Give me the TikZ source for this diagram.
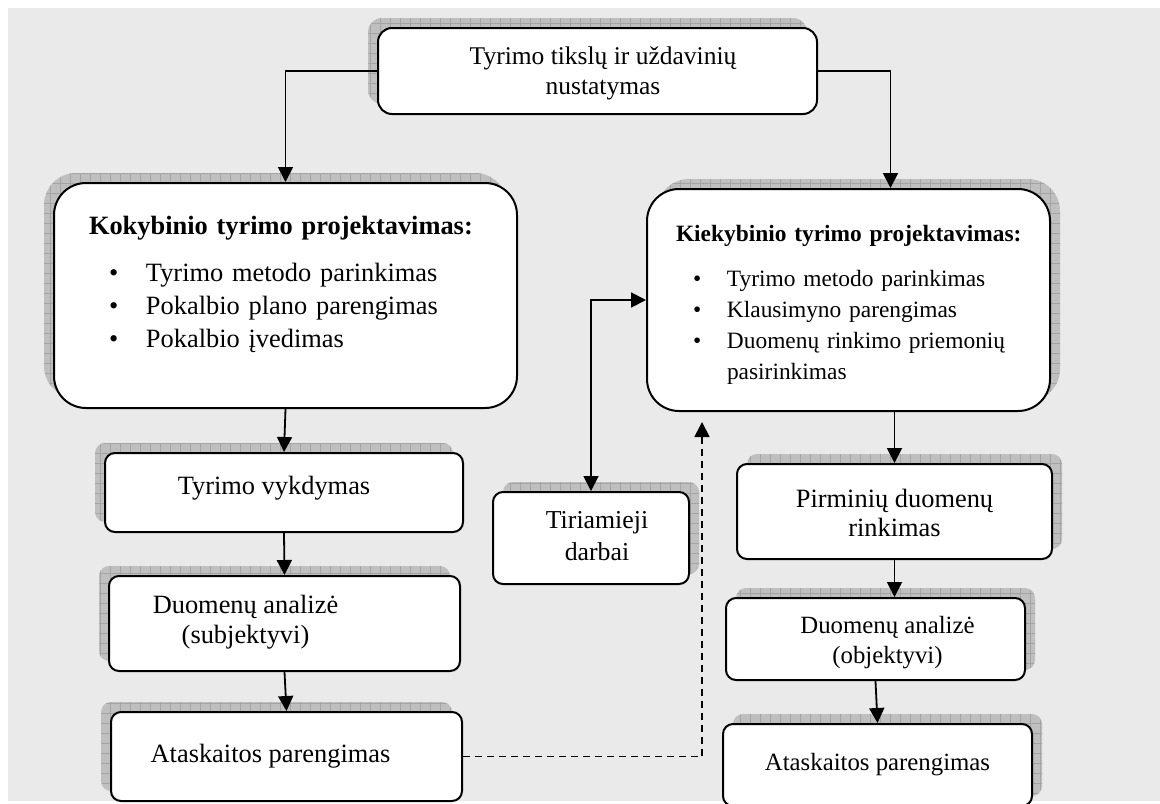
\documentclass[tikz,border=0pt]{standalone}
\usepackage{fontspec}
\setmainfont{Liberation Serif}
\usetikzlibrary{arrows.meta,shadows,patterns.meta}
\definecolor{paper}{HTML}{EAEAEA}
\definecolor{shade}{HTML}{BFBFBF}
\definecolor{shadeline}{HTML}{A4A4A4}
% shift a (multi-line) label inside its box: #1 right, #2 up
\newcommand\nudge[3]{\hspace*{#1}\raisebox{#2}[\height][\depth]{\begin{tabular}{@{}c@{}}#3\end{tabular}}\hspace*{-#1}}
\tikzset{
  shadowfill/.style={opacity=1, fill=shade,
    postaction={pattern={Hatch[distance=5pt,line width=0.35pt]}, pattern color=shadeline}},
  lshadow/.style={drop shadow={shadow xshift=-5pt, shadow yshift=5pt, shadowfill}},
  rshadow/.style={drop shadow={shadow xshift=5pt, shadow yshift=5pt, shadowfill}},
  box/.style={draw, line width=1pt, fill=white, rounded corners=5pt, align=center,
    font=\fontsize{13.2pt}{16pt}\selectfont, inner sep=0pt},
  bigbox/.style={box, rounded corners=16pt, align=left, anchor=north west, inner ysep=0pt},
  arr/.style={-{Triangle[length=7.5pt,width=7.5pt]}, line width=0.9pt},
  dbl/.style={{Triangle[length=7.5pt,width=7.5pt]}-{Triangle[length=7.5pt,width=7.5pt]}, line width=0.9pt},
}

\begin{document}
\begin{tikzpicture}[x=0.5pt, y=-0.5pt]
  \useasboundingbox (0,0) rectangle (1160,803);
  \fill[paper] (8,8) rectangle (1160,801);

  % goal
  \node[box, lshadow, rounded corners=7pt, minimum width=219.5pt, minimum height=43pt,
    font=\fontsize{12.75pt}{15pt}\selectfont] (goal) at (597.5,71)
    {\nudge{2.75pt}{-1pt}{Tyrimo tikslų ir uždavinių\\nustatymas}};

  % the two designs
  \node[bigbox, lshadow, inner xsep=17.5pt, text width=196.5pt, text height=25.5pt, text depth=87pt,
    font=\fontsize{13.2pt}{16.5pt}\selectfont] (qual) at (53,182) {%
    \mbox{\textbf{Kokybinio tyrimo projektavimas:}}\\[7pt]
    \begin{tabular}[t]{@{\hspace{10pt}}p{18.5pt}@{}l@{}}
      \textbullet & Tyrimo metodo parinkimas\\
      \textbullet & Pokalbio plano parengimas\\
      \textbullet & Pokalbio įvedimas
    \end{tabular}};
  \node[bigbox, rshadow, inner xsep=14.5pt, text width=172.5pt, text height=26pt, text depth=85pt,
    font=\fontsize{11.7pt}{15.5pt}\selectfont] (quant) at (646,188) {%
    \mbox{\textbf{Kiekybinio tyrimo projektavimas:}}\\[7pt]
    \begin{tabular}[t]{@{\hspace{8.5pt}}p{17pt}@{}l@{}}
      \textbullet & Tyrimo metodo parinkimas\\
      \textbullet & Klausimyno parengimas\\
      \textbullet & Duomenų rinkimo priemonių\\
                  & pasirinkimas
    \end{tabular}};

  % left column
  \node[box, lshadow, minimum width=179pt, minimum height=39.5pt] (run) at (284,492.5)
    {\nudge{-5pt}{2pt}{Tyrimo vykdymas}};
  \node[box, lshadow, minimum width=175.5pt, minimum height=47.5pt,
    font=\fontsize{13.2pt}{15pt}\selectfont] (qualan) at (284.5,623.5)
    {\nudge{-19.5pt}{0.75pt}{Duomenų analizė\\(subjektyvi)}};
  \node[box, lshadow, minimum width=175.5pt, minimum height=44.5pt] (qualrep) at (286.5,756.5)
    {\nudge{-8pt}{0pt}{Ataskaitos parengimas}};

  % middle
  \node[box, rshadow, minimum width=98pt, minimum height=46pt,
    font=\fontsize{12.9pt}{16pt}\selectfont] (works) at (591,538)
    {\nudge{3pt}{0pt}{Tiriamieji\\darbai}};

  % right column
  \node[box, rshadow, minimum width=157.5pt, minimum height=47.5pt,
    font=\fontsize{13.2pt}{14.5pt}\selectfont] (collect) at (894.5,511.5)
    {\nudge{0pt}{-2.5pt}{Pirminių duomenų\\rinkimas}};
  \node[box, rshadow, minimum width=149.5pt, minimum height=41pt,
    font=\fontsize{12.4pt}{15pt}\selectfont] (quantan) at (875.5,639)
    {\nudge{6pt}{-1.5pt}{Duomenų analizė\\(objektyvi)}};
  \node[box, rshadow, minimum width=154.5pt, minimum height=41pt,
    font=\fontsize{12.4pt}{15pt}\selectfont] (quantrep) at (877.5,765)
    {Ataskaitos parengimas};

  % connectors
  \draw[arr] (goal.west) -| (qual.north);
  \draw[arr] (goal.east) -| ([xshift=21pt]quant.north);
  \draw[arr] (qual.south) -- (run.north);
  \draw[arr] (run.south) -- (qualan.north);
  \draw[arr] (qualan.south) -- (qualrep.north);
  \draw[arr] (collect.north |- quant.south) -- (collect.north);
  \draw[arr] (collect.south) -- (collect.south |- quantan.north);
  \draw[arr] (quantan.south) -- (quantrep.north);
  \draw[dbl] (works.north) |- (quant.west);
  \coordinate (back) at (702,422);
  \draw[arr, dash pattern=on 3.5pt off 2.5pt] (qualrep.east) -| (back);
\end{tikzpicture}
\end{document}
